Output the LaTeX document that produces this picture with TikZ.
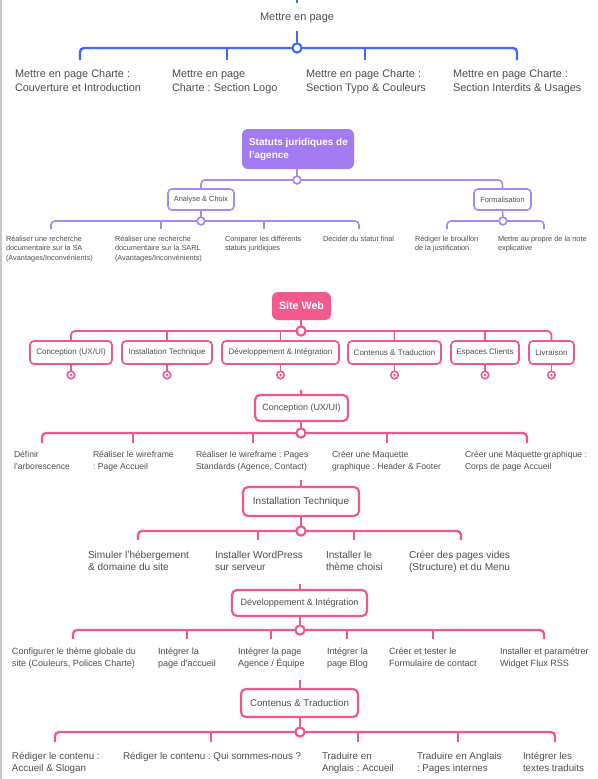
\documentclass[tikz,border=0pt]{standalone}
\usepackage{fontspec}
\setmainfont{Liberation Sans}
\frenchspacing
\definecolor{cBlue}{RGB}{63,108,245}
\definecolor{cPurple}{RGB}{168,136,243}
\definecolor{cPurpleFill}{RGB}{162,122,242}
\definecolor{cPink}{RGB}{240,88,138}
\definecolor{cPinkFill}{RGB}{242,90,139}
\definecolor{cText}{RGB}{78,78,78}
\definecolor{cBorder}{RGB}{200,200,200}
\begin{document}
\begin{tikzpicture}[x=1pt,y=-1pt,
  every node/.style={inner sep=0pt, outer sep=0pt},
  txt/.style={text=cText, align=left, anchor=base west},
  bl/.style={draw=cBlue, line width=2.4pt, rounded corners=4pt},
  pl/.style={draw=cPurple, line width=1.6pt, rounded corners=4pt},
  kl/.style={draw=cPink, line width=1.8pt, rounded corners=4pt},
  kl2/.style={draw=cPink, line width=2.3pt, rounded corners=4pt},
  hubB/.style={circle, draw=cBlue, fill=white, line width=2pt, minimum size=9pt},
  hubP/.style={circle, draw=cPurple, fill=white, line width=1.6pt, minimum size=7.5pt},
  hubK/.style={circle, draw=cPink, fill=white, line width=2pt, minimum size=9pt},
  colK/.style={circle, draw=cPink, fill=white, line width=1.6pt, minimum size=7.5pt,
     path picture={\fill[cPink] (path picture bounding box.center) circle (1.3pt);}},
  rootP/.style={fill=cPurpleFill, rounded corners=6pt},
  rootK/.style={fill=cPinkFill, rounded corners=6pt, text=white, font=\bfseries\fontsize{10.7}{13}\selectfont},
  boxP/.style={draw=cPurple, line width=1.6pt, fill=white, rounded corners=4pt, text=cText, font=\fontsize{7.4}{9}\selectfont},
  boxK/.style={draw=cPink, line width=1.7pt, fill=white, rounded corners=4pt, text=cText, font=\fontsize{8}{10}\selectfont},
  boxK2/.style={draw=cPink, line width=2.2pt, fill=white, rounded corners=5pt, text=cText},
]
\useasboundingbox (0,0) rectangle (597,779);
\fill[white] (0,0) rectangle (597,779);
\draw[cBorder, line width=1.5pt] (0.75,0) -- (0.75,779);

% ---------------- Section 1 : Mettre en page (blue)
\coordinate (s1top) at (297,0);
\coordinate (s1a) at (297,3);
\draw[bl] (s1top) -- (s1a);
\node[text=cText, anchor=base, font=\fontsize{11}{14}\selectfont] (mp) at (297,20.6) {Mettre en page};
\node[hubB] (hB) at (297,48) {};
\coordinate (mpb) at (297,31);
\draw[bl] (mpb) -- (hB);
\coordinate (b1) at (80,60); \coordinate (b2) at (227,60);
\coordinate (b3) at (365,60); \coordinate (b4) at (517,60);
\draw[bl] (b1) -- (b1 |- hB) -- (b4 |- hB) -- (b4);
\draw[bl] (b2 |- hB) -- (b2);
\draw[bl] (b3 |- hB) -- (b3);
\node[hubB] at (hB) {};
\begin{scope}[every node/.append style={txt, font=\fontsize{10.9}{14}\selectfont}]
\node (m1) at (15,91.3) {Mettre en page Charte :\\Couverture et Introduction};
\node (m2) at (172,91.3) {Mettre en page\\Charte : Section Logo};
\node (m3) at (306,91.3) {Mettre en page Charte :\\Section Typo \& Couleurs};
\node (m4) at (453,91.3) {Mettre en page Charte :\\Section Interdits \& Usages};
\end{scope}

% ---------------- Section 2 : Statuts juridiques (purple)
\node[rootP, minimum width=112pt, minimum height=40pt] (sj) at (298,149) {};
\node[anchor=west, align=left, text=white, font=\bfseries\fontsize{10}{13}\selectfont] (sjt) at (249,149.5) {Statuts juridiques de\\l'agence};
\node[hubP] (hP) at (297,180) {};
\draw[pl] (sj.south -| hP) -- (hP);
\node[boxP, minimum width=66pt, minimum height=21pt] (ac) at (201,199.5) {Analyse \& Choix};
\node[boxP, minimum width=57pt, minimum height=21pt] (fo) at (502.5,199.5) {Formalisation};
\draw[pl] (ac.north) -- (ac.north |- hP) -- (fo.north |- hP) -- (fo.north);
\node[hubP] at (hP) {};
\node[hubP] (hA) at (201,221) {};
\node[hubP] (hF) at (503,221) {};
\draw[pl] (ac.south) -- (hA);
\draw[pl] (fo.south) -- (hF);
\coordinate (a1) at (51,229); \coordinate (a2) at (161,229);
\coordinate (a3) at (264,229); \coordinate (a4) at (359,229);
\draw[pl] (a1) -- (a1 |- hA) -- (a4 |- hA) -- (a4);
\draw[pl] (a2 |- hA) -- (a2);
\draw[pl] (a3 |- hA) -- (a3);
\node[hubP] at (hA) {};
\coordinate (f1) at (447,229); \coordinate (f2) at (544,229);
\draw[pl] (f1) -- (f1 |- hF) -- (f2 |- hF) -- (f2);
\node[hubP] at (hF) {};
\begin{scope}[every node/.append style={txt, font=\fontsize{7.35}{9.6}\selectfont}]
\node (p1) at (6,260.4) {Réaliser une recherche\\documentaire sur la SA\\(Avantages/Inconvénients)};
\node (p2) at (115,260.4) {Réaliser une recherche\\documentaire sur la SARL\\(Avantages/Inconvénients)};
\node (p3) at (225,250.8) {Comparer les différents\\statuts juridiques};
\node (p4) at (323,241.2) {Décider du statut final};
\node (p5) at (415,250.8) {Rédiger le brouillon\\de la justification};
\node (p6) at (498,250.8) {Mettre au propre de la note\\explicative};
\end{scope}

% ---------------- Section 3 : Site Web (pink)
\node[rootK, minimum width=59pt, minimum height=28pt] (sw) at (301.5,306) {Site Web};
\node[hubK] (hW) at (301,331) {};
\draw[kl] (sw.south -| hW) -- (hW);
\node[boxK, minimum width=82pt, minimum height=23pt] (w1) at (71,352.5) {Conception (UX/UI)};
\node[boxK, minimum width=90pt, minimum height=23pt] (w2) at (167,352.5) {Installation Technique};
\node[boxK, minimum width=117pt, minimum height=23pt] (w3) at (280.5,352.5) {Développement \& Intégration};
\node[boxK, minimum width=93pt, minimum height=23pt] (w4) at (394.5,352.5) {Contenus \& Traduction};
\node[boxK, minimum width=68pt, minimum height=23pt] (w5) at (485,352.5) {Espaces Clients};
\node[boxK, minimum width=45pt, minimum height=23pt] (w6) at (551.5,352.5) {Livraison};
\draw[kl] (w1.north) -- (w1.north |- hW) -- (w6.north |- hW) -- (w6.north);
\foreach \n in {w2,w3,w4,w5} {\draw[kl] (\n.north |- hW) -- (\n.north);}
\node[hubK] at (hW) {};
\foreach \n in {w1,w2,w3,w4,w5,w6} {
  \node[colK] (c\n) at (\n.south |- 0,375) {};
  \draw[kl] (\n.south) -- (c\n.north);
}

% ---------------- Conception (UX/UI)
\node[boxK2, minimum width=93pt, minimum height=26pt, font=\fontsize{9}{11}\selectfont] (cb) at (301.5,408) {Conception (UX/UI)};
\coordinate (cs) at (301,390);
\draw[kl2] (cs) -- (cb.north);
\node[hubK] (hC) at (301,433) {};
\draw[kl2] (cb.south -| hC) -- (hC);
\coordinate (k1) at (42,443); \coordinate (k2) at (133,443); \coordinate (k3) at (253,443);
\coordinate (k4) at (387,443); \coordinate (k5) at (527,443);
\draw[kl2] (k1) -- (k1 |- hC) -- (k5 |- hC) -- (k5);
\foreach \c in {k2,k3,k4} {\draw[kl2] (\c |- hC) -- (\c);}
\node[hubK] at (hC) {};
\begin{scope}[every node/.append style={txt, font=\fontsize{8.6}{12}\selectfont}]
\node (q1) at (14,469.6) {Définir\\l'arborescence};
\node (q2) at (93,469.6) {Réaliser le wireframe\\: Page Accueil};
\node (q3) at (196,469.6) {Réaliser le wireframe : Pages\\Standards (Agence, Contact)};
\node (q4) at (332,469.6) {Créer une Maquette\\graphique : Header \& Footer};
\node (q5) at (465,469.6) {Créer une Maquette graphique :\\Corps de page Accueil};
\end{scope}

% ---------------- Installation Technique
\node[boxK2, minimum width=116pt, minimum height=29pt, font=\fontsize{10}{12}\selectfont] (ib) at (301,501.5) {Installation Technique};
\coordinate (is) at (301,480);
\draw[kl2] (is) -- (ib.north);
\node[hubK] (hI) at (301,531) {};
\draw[kl2] (ib.south) -- (hI);
\coordinate (i1) at (138,540); \coordinate (i2) at (258,540);
\coordinate (i3) at (354,540); \coordinate (i4) at (461,540);
\draw[kl2] (i1) -- (i1 |- hI) -- (i4 |- hI) -- (i4);
\foreach \c in {i2,i3} {\draw[kl2] (\c |- hI) -- (\c);}
\node[hubK] at (hI) {};
\begin{scope}[every node/.append style={txt, font=\fontsize{10.1}{12.5}\selectfont}]
\node (r1) at (88,570.5) {Simuler l'hébergement\\\& domaine du site};
\node (r2) at (215,570.5) {Installer WordPress\\sur serveur};
\node (r3) at (326,570.5) {Installer le\\thème choisi};
\node (r4) at (409,570.5) {Créer des pages vides\\(Structure) et du Menu};
\end{scope}

% ---------------- Développement & Intégration
\node[boxK2, minimum width=135pt, minimum height=26pt, font=\fontsize{9.1}{11}\selectfont] (db) at (299.5,603) {Développement \& Intégration};
\coordinate (ds) at (300,584);
\draw[kl2] (ds) -- (ds |- db.north);
\node[hubK] (hD) at (300,630) {};
\draw[kl2] (db.south -| hD) -- (hD);
\coordinate (e1) at (73,639); \coordinate (e2) at (187,639); \coordinate (e3) at (271,639);
\coordinate (e4) at (347,639); \coordinate (e5) at (433,639); \coordinate (e6) at (544,639);
\draw[kl2] (e1) -- (e1 |- hD) -- (e6 |- hD) -- (e6);
\foreach \c in {e2,e3,e4,e5} {\draw[kl2] (\c |- hD) -- (\c);}
\node[hubK] at (hD) {};
\begin{scope}[every node/.append style={txt, font=\fontsize{9.07}{12}\selectfont}]
\node (s1) at (12,666.7) {Configurer le thème globale du\\site (Couleurs, Polices Charte)};
\node (s2) at (158,666.7) {Intégrer la\\page d'accueil};
\node (s3) at (238,666.7) {Intégrer la page\\Agence / Équipe};
\node (s4) at (327,666.7) {Intégrer la\\page Blog};
\node (s5) at (389,666.7) {Créer et tester le\\Formulaire de contact};
\node (s6) at (500,666.7) {Installer et paramétrer\\Widget Flux RSS};
\end{scope}

% ---------------- Contenus & Traduction
\node[boxK2, minimum width=117pt, minimum height=28pt, font=\fontsize{9.7}{11}\selectfont] (tb) at (299.5,703) {Contenus \& Traduction};
\coordinate (ts) at (300,680);
\draw[kl2] (ts) -- (ts |- tb.north);
\node[hubK] (hT) at (300,732) {};
\draw[kl2] (tb.south -| hT) -- (hT);
\coordinate (g1) at (55,742); \coordinate (g2) at (211,742); \coordinate (g3) at (358,742);
\coordinate (g4) at (458,742); \coordinate (g5) at (555,742);
\draw[kl2] (g1) -- (g1 |- hT) -- (g5 |- hT) -- (g5);
\foreach \c in {g2,g3,g4} {\draw[kl2] (\c |- hT) -- (\c);}
\node[hubK] at (hT) {};
\begin{scope}[every node/.append style={txt, font=\fontsize{9.8}{12}\selectfont}]
\node (u1) at (12,771) {Rédiger le contenu :\\Accueil \& Slogan};
\node (u2) at (123,759) {Rédiger le contenu : Qui sommes-nous ?};
\node (u3) at (322,771) {Traduire en\\Anglais : Accueil};
\node (u4) at (417,771) {Traduire en Anglais\\: Pages internes};
\node (u5) at (523,771) {Intégrer les\\textes traduits};
\end{scope}
\end{tikzpicture}
\end{document}
